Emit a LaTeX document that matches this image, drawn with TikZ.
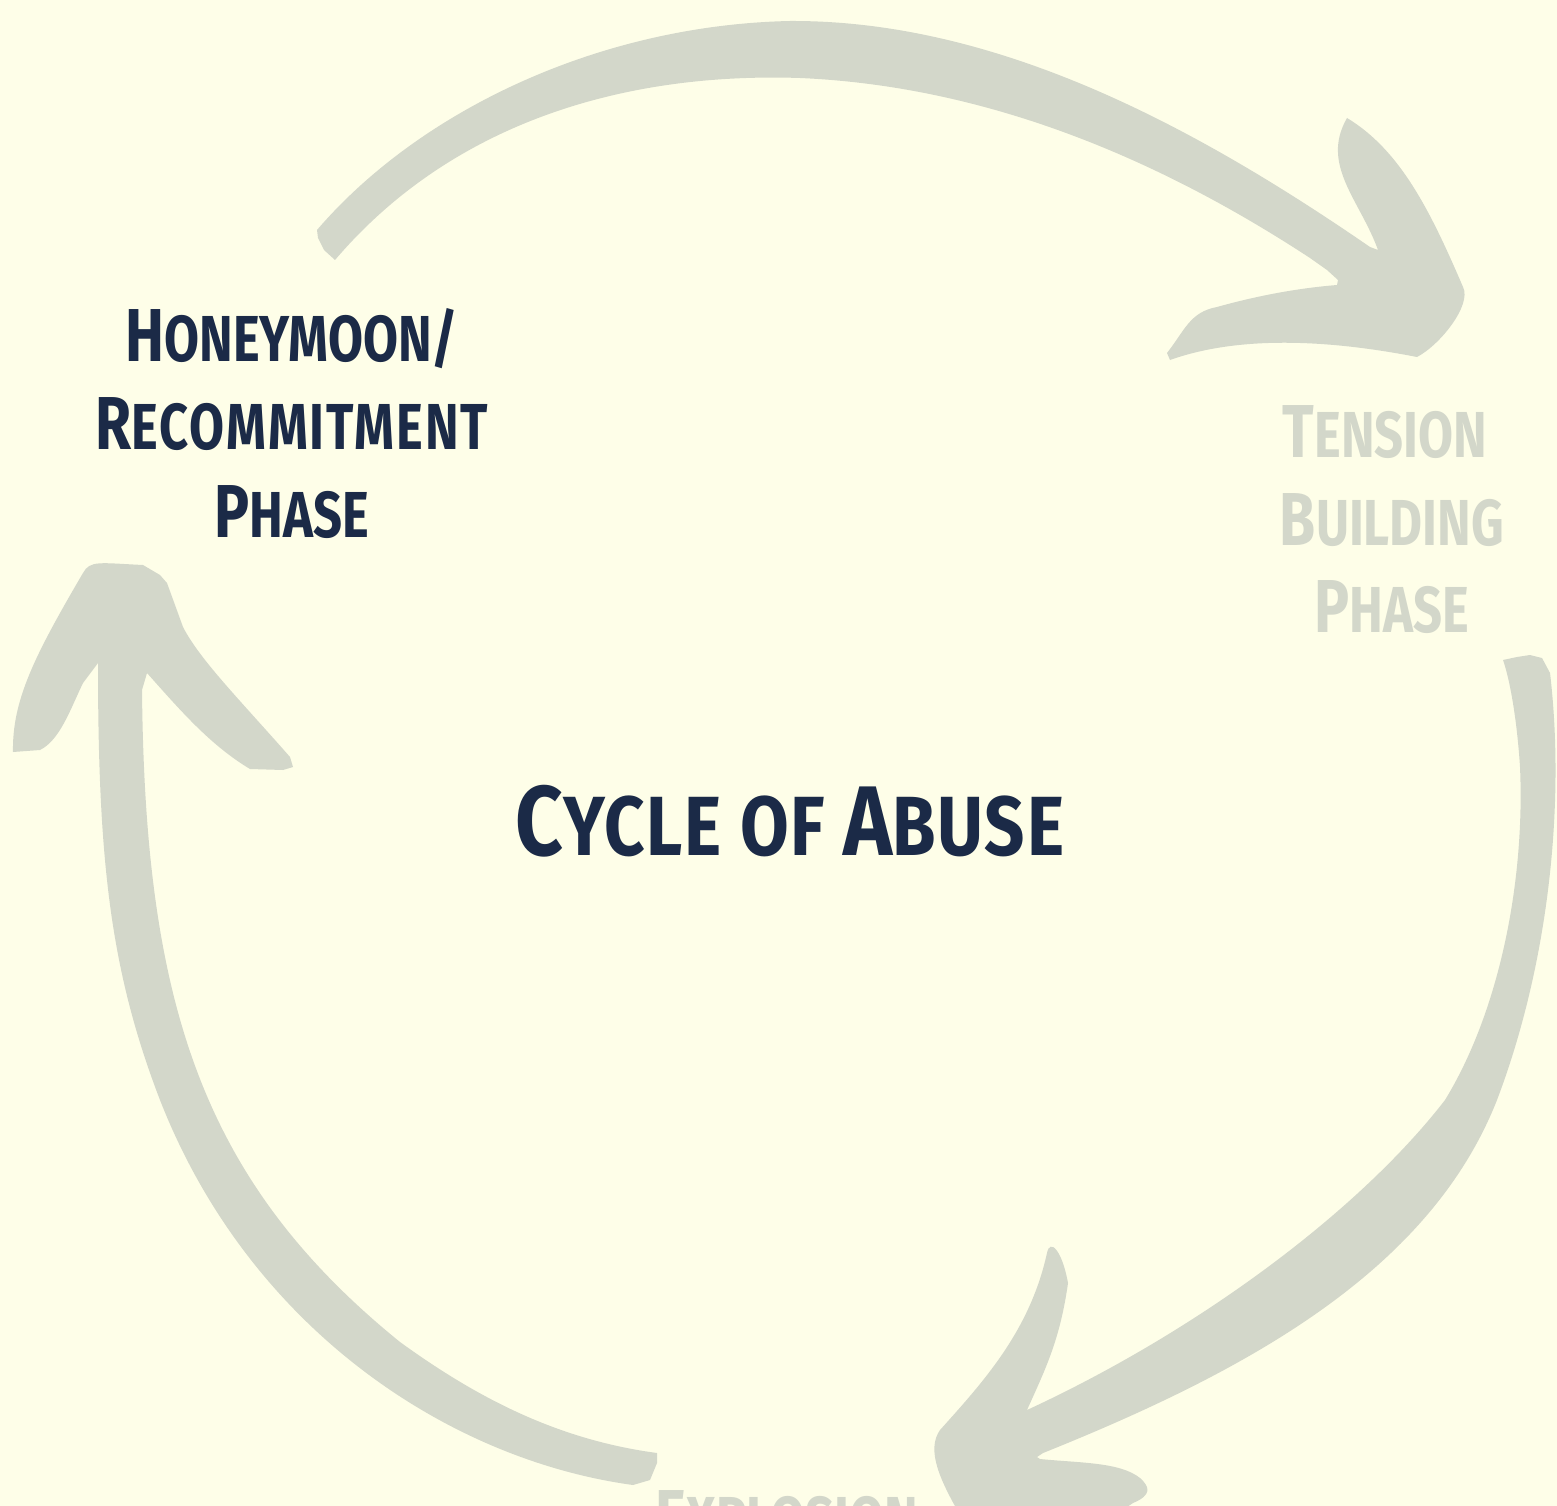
\documentclass[tikz,border=0pt]{standalone}
\usepackage{fontspec}
\newfontfamily\hfont[FakeStretch=0.78]{Fira Sans}
\newfontfamily\tfont[FakeStretch=0.84,LetterSpace=2]{Fira Sans}
\definecolor{bgc}{HTML}{FEFEE8}
\definecolor{arrowc}{HTML}{D3D7CA}
\definecolor{navy}{HTML}{1B2A47}
\newcommand\phcap[2]{{\fontsize{75pt}{75pt}\selectfont #1}{\fontsize{65pt}{65pt}\selectfont #2}}
\newcommand\ttlcap[2]{{\fontsize{99pt}{99pt}\selectfont #1}{\fontsize{84pt}{84pt}\selectfont #2}}
\tikzset{
  lbl/.style={anchor=base, inner sep=0pt, font=\hfont\bfseries},
  dark/.style={lbl, text=navy},
  pale/.style={lbl, text=arrowc},
  brush/.style={fill=arrowc, draw=none}
}
\begin{document}
\begin{tikzpicture}[x=1pt,y=-1pt]
\fill[bgc] (0,0) rectangle (1557,1506);
\useasboundingbox (0,0) rectangle (1557,1506);
\begin{scope}
\clip (0,0) rectangle (1557,1506);
% top arrow: Honeymoon -> Tension
\fill[brush] (335,260) -- (324,250) -- (318,238) -- (317,230)
  .. controls (420,110) and (600,25) .. (790,21)
  .. controls (1000,20) and (1200,130) .. (1370,247)
  -- (1378,250)
  .. controls (1360,200) and (1320,165) .. (1347,118)
  .. controls (1400,150) and (1430,210) .. (1463,287)
  .. controls (1472,305) and (1440,345) .. (1417,357)
  .. controls (1330,340) and (1240,335) .. (1170,360)
  -- (1167,353)
  .. controls (1185,330) and (1190,312) .. (1217,307)
  .. controls (1260,295) and (1300,288) .. (1337,285)
  -- (1338,280) -- (1327,270) -- (1310,258)
  .. controls (1130,140) and (960,85) .. (800,78)
  .. controls (620,72) and (450,125) .. (335,260) -- cycle;
% right arrow: Tension -> Explosion
\fill[brush] (1503,660) -- (1517,657) -- (1530,655) -- (1542,658) -- (1550,673)
  .. controls (1565,800) and (1550,960) .. (1497,1100)
  .. controls (1430,1270) and (1250,1370) .. (1043,1453)
  -- (1037,1457) -- (1040,1459)
  .. controls (1080,1463) and (1120,1462) .. (1140,1478)
  .. controls (1150,1487) and (1152,1495) .. (1133,1503)
  -- (1115,1515) -- (960,1515)
  .. controls (940,1480) and (926,1450) .. (940,1430)
  .. controls (985,1380) and (1030,1330) .. (1047,1253)
  .. controls (1050,1238) and (1062,1250) .. (1068,1283)
  .. controls (1060,1340) and (1045,1370) .. (1027,1410)
  .. controls (1200,1330) and (1360,1210) .. (1445,1100)
  .. controls (1500,1010) and (1525,880) .. (1520,767)
  .. controls (1517,720) and (1510,680) .. (1503,660) -- cycle;
% left arrow: Explosion -> Honeymoon
\fill[brush] (657,1453) -- (657,1463) -- (650,1480) -- (633,1485)
  .. controls (450,1460) and (250,1330) .. (160,1100)
  .. controls (110,970) and (98,860) .. (98,663)
  -- (83,683)
  .. controls (70,710) and (60,740) .. (40,750)
  -- (13,752)
  .. controls (12,700) and (35,655) .. (83,573)
  .. controls (90,560) and (100,563) .. (143,565)
  -- (160,575) -- (167,583) -- (183,627)
  .. controls (200,660) and (240,700) .. (290,757)
  -- (293,767) -- (283,770) -- (250,769)
  .. controls (210,745) and (180,710) .. (147,673)
  -- (142,690)
  .. controls (145,1000) and (200,1180) .. (400,1342)
  .. controls (480,1400) and (560,1440) .. (657,1453) -- cycle;
\end{scope}
% labels
\node[dark] (hm1) at (292,361) {\phcap{H}{ONEYMOON/}};
\node[dark] (hm2) at (292,449) {\addfontfeature{LetterSpace=3}\phcap{R}{ECOMMITMENT}};
\node[dark] (hm3) at (292,537) {\phcap{P}{HASE}};
\node[pale] (tb1) at (1385,457) {\phcap{T}{ENSION}};
\node[pale] (tb2) at (1392,545) {\phcap{B}{UILDING}};
\node[pale] (tb3) at (1392,632) {\phcap{P}{HASE}};
\node[pale] (ex1) at (787,1542) {\phcap{E}{XPLOSION}};
\node[dark, font=\tfont\bfseries] (title) at (790,855) {\ttlcap{C}{YCLE OF }\ttlcap{A}{BUSE}};
\end{tikzpicture}
\end{document}
